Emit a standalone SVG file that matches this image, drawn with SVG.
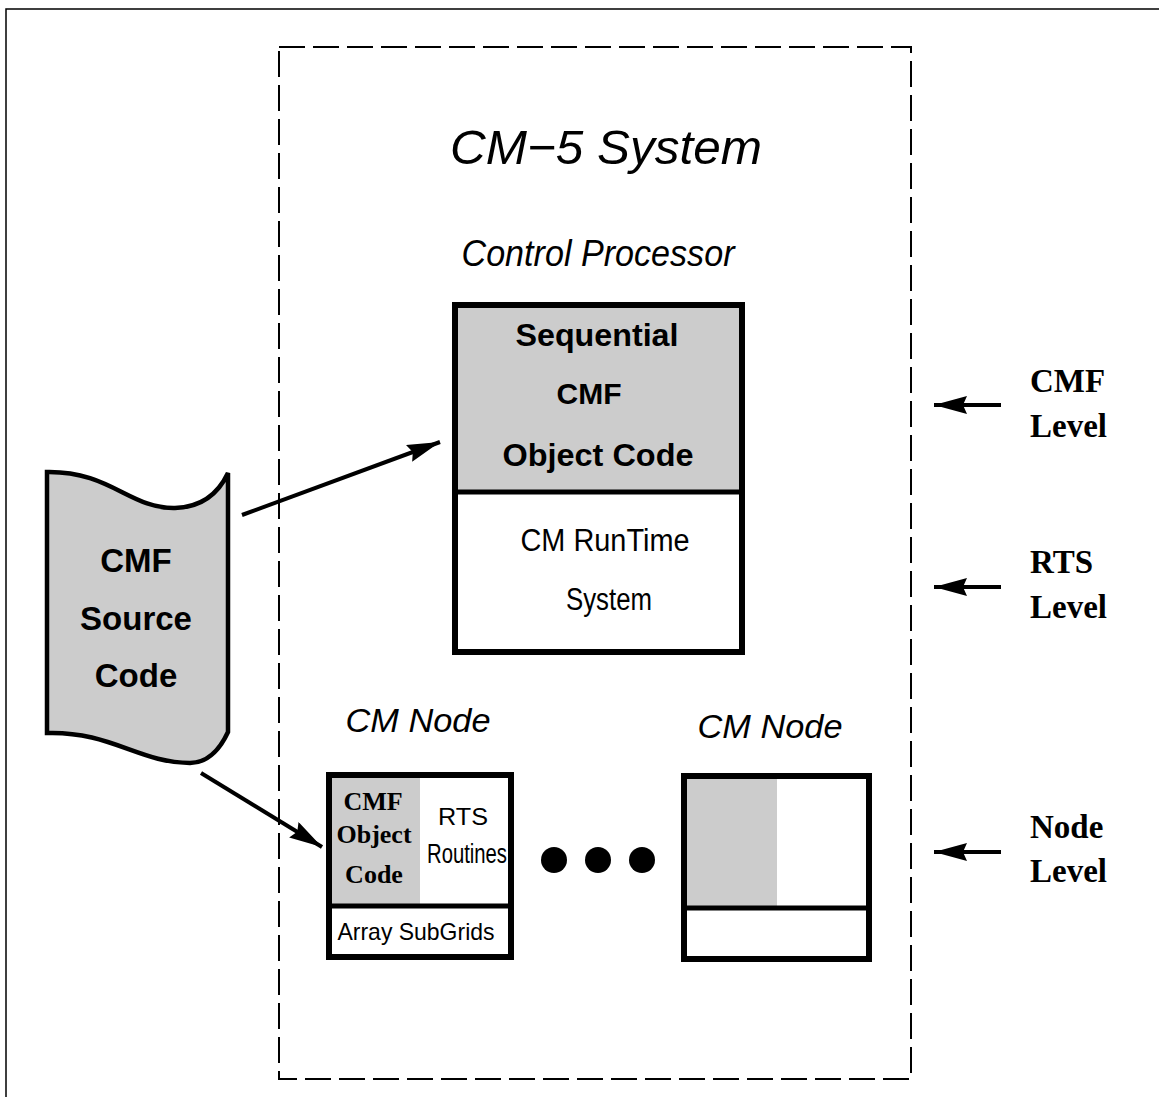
<svg xmlns="http://www.w3.org/2000/svg" width="1159" height="1097" viewBox="0 0 1159 1097">
<style>
.frame{fill:none;stroke:#000;stroke-width:1.5}
.dash{fill:none;stroke:#000;stroke-width:2;stroke-dasharray:26 8}
.box{fill:#fff;stroke:#000;stroke-width:6}
.gray{fill:#cccccc}
.div{stroke:#000;stroke-width:5}
.conn{stroke:#000;stroke-width:4;fill:none}
.sans{font-family:"Liberation Sans",Arial,sans-serif}
.serif{font-family:"Liberation Serif","Times New Roman",serif;font-weight:bold}
.b{font-weight:bold}
.i{font-style:italic}
</style>
<defs>
<marker id="ah" markerUnits="userSpaceOnUse" markerWidth="36" markerHeight="20" refX="33" refY="9" orient="auto">
<polygon points="0,0 33,9 0,18 4,9" fill="#000"/>
</marker>
</defs>
<rect class="frame" x="6" y="9" width="1170" height="1110"/>
<g id="cm5-system">
<rect class="dash" x="279" y="47" width="632" height="1032"/>
<text class="sans i" x="606" y="164" font-size="49" text-anchor="middle" textLength="312" lengthAdjust="spacingAndGlyphs">CM−5 System</text>
</g>
<g id="source-code">
<path d="M47,472 C110,471 130,509 175,508 C205,507 220,490 228,473 L228,732 C222,745 210,763 190,763 C140,763 110,731 47,733 Z" fill="#cccccc" stroke="#000" stroke-width="4.5" stroke-linejoin="miter"/>
<text class="sans b" font-size="33" text-anchor="middle"><tspan x="136" y="572">CMF</tspan><tspan x="136" y="630">Source</tspan><tspan x="136" y="687">Code</tspan></text>
</g>
<g id="control-processor">
<text class="sans i" x="598" y="266" font-size="37" text-anchor="middle" textLength="273" lengthAdjust="spacingAndGlyphs">Control Processor</text>
<rect class="box" x="455" y="305" width="287" height="347"/>
<rect class="gray" x="458" y="308" width="281" height="182"/>
<line class="div" x1="455" y1="492" x2="742" y2="492"/>
<text class="sans b" x="597" y="346" font-size="31" text-anchor="middle" textLength="163" lengthAdjust="spacingAndGlyphs">Sequential</text>
<text class="sans b" x="589" y="404" font-size="30" text-anchor="middle">CMF</text>
<text class="sans b" x="598" y="466" font-size="31" text-anchor="middle" textLength="191" lengthAdjust="spacingAndGlyphs">Object Code</text>
<text class="sans" x="605" y="551" font-size="31" text-anchor="middle" textLength="169" lengthAdjust="spacingAndGlyphs">CM RunTime</text>
<text class="sans" x="609" y="610" font-size="31" text-anchor="middle" textLength="86" lengthAdjust="spacingAndGlyphs">System</text>
</g>
<g id="cm-node-1">
<text class="sans i" x="418" y="732" font-size="34" text-anchor="middle" textLength="145" lengthAdjust="spacingAndGlyphs">CM Node</text>
<rect class="box" x="329" y="775" width="182" height="182"/>
<rect class="gray" x="332" y="778" width="88" height="127"/>
<line class="div" x1="329" y1="906" x2="511" y2="906"/>
<text class="serif" x="373" y="810" font-size="26" text-anchor="middle">CMF</text>
<text class="serif" x="374" y="843" font-size="26" text-anchor="middle">Object</text>
<text class="serif" x="374" y="883" font-size="26" text-anchor="middle">Code</text>
<text class="sans" x="463" y="825" font-size="24" text-anchor="middle" textLength="50" lengthAdjust="spacingAndGlyphs">RTS</text>
<text class="sans" x="467" y="863" font-size="27" text-anchor="middle" textLength="80" lengthAdjust="spacingAndGlyphs">Routines</text>
<text class="sans" x="416" y="940" font-size="24" text-anchor="middle" textLength="157" lengthAdjust="spacingAndGlyphs">Array SubGrids</text>
</g>
<g id="ellipsis">
<circle cx="554" cy="860" r="13"/>
<circle cx="598" cy="860" r="13"/>
<circle cx="642" cy="860" r="13"/>
</g>
<g id="cm-node-2">
<text class="sans i" x="770" y="738" font-size="34" text-anchor="middle" textLength="145" lengthAdjust="spacingAndGlyphs">CM Node</text>
<rect class="box" x="684" y="776" width="185" height="183"/>
<rect class="gray" x="687" y="779" width="90" height="127"/>
<line class="div" x1="684" y1="908" x2="869" y2="908"/>
</g>
<g id="levels">
<text class="serif" x="1030" y="392" font-size="33">CMF</text>
<text class="serif" x="1030" y="437" font-size="33">Level</text>
<text class="serif" x="1030" y="573" font-size="33">RTS</text>
<text class="serif" x="1030" y="618" font-size="33">Level</text>
<text class="serif" x="1030" y="838" font-size="33">Node</text>
<text class="serif" x="1030" y="882" font-size="33">Level</text>
</g>
<g id="connectors">
<line class="conn" x1="242" y1="515" x2="440" y2="442" marker-end="url(#ah)"/>
<line class="conn" x1="201" y1="773" x2="322" y2="847" marker-end="url(#ah)"/>
<line class="conn" x1="1001" y1="405" x2="934" y2="405" marker-end="url(#ah)"/>
<line class="conn" x1="1001" y1="587" x2="934" y2="587" marker-end="url(#ah)"/>
<line class="conn" x1="1001" y1="852" x2="934" y2="852" marker-end="url(#ah)"/>
</g>
</svg>
